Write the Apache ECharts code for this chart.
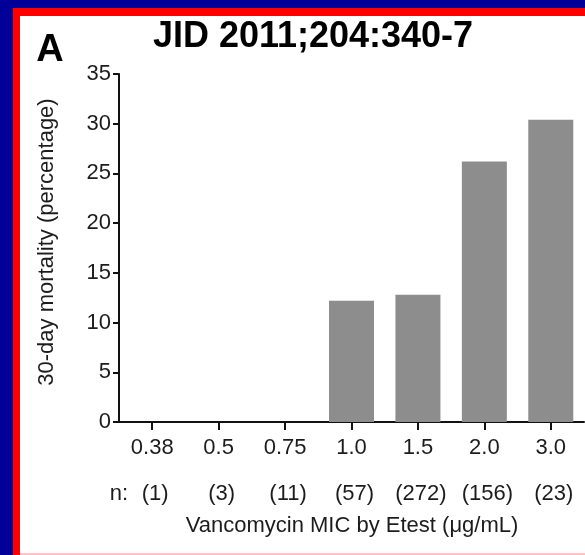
<!DOCTYPE html>
<html>
<head>
<meta charset="utf-8">
<script src="https://cdn.jsdelivr.net/npm/echarts@6/dist/echarts.min.js"></script>
<style>
html,body{margin:0;padding:0;background:#fff;}
#c{width:585px;height:555px;}
</style>
</head>
<body>
<div id="c"></div>
<script>
var categories = ['0.38', '0.5', '0.75', '1.0', '1.5', '2.0', '3.0'];
var nCounts = ['(1)', '(3)', '(11)', '(57)', '(272)', '(156)', '(23)'];
var mortality = [0, 0, 0, 12.2, 12.8, 26.2, 30.4];
var yTicks = { min: 0, max: 35, interval: 5 };

var FONT = 'Liberation Sans, Arial, Helvetica, sans-serif';
var TXT = '#1c1c1c';
var chart = echarts.init(document.getElementById('c'), null, { renderer: 'canvas' });
chart.setOption({
  animation: false,
  backgroundColor: '#fff',
  grid: { left: 119, right: 1, top: 74, bottom: 133, containLabel: false },
  xAxis: [{
    type: 'category',
    data: categories,
    position: 'bottom',
    axisLine: { show: true, lineStyle: { color: '#111', width: 2 } },
    axisTick: { show: true, alignWithLabel: true, interval: 0, length: 8, lineStyle: { color: '#111', width: 2 } },
    axisLabel: { interval: 0, margin: 15, fontSize: 22, color: TXT, fontFamily: FONT },
    splitLine: { show: false }
  }, {
    type: 'category',
    data: nCounts,
    position: 'bottom',
    axisLine: { show: false },
    axisTick: { show: false },
    axisLabel: { interval: 0, margin: 61, fontSize: 22, color: TXT, fontFamily: FONT, padding: [0, 0, 0, 6] },
    splitLine: { show: false }
  }],
  yAxis: {
    type: 'value',
    min: yTicks.min, max: yTicks.max, interval: yTicks.interval,
    axisLine: { show: true, lineStyle: { color: '#111', width: 2 } },
    axisTick: { show: true, length: 6, lineStyle: { color: '#111', width: 2 } },
    axisLabel: { margin: 8, fontSize: 22, color: TXT, fontFamily: FONT },
    splitLine: { show: false }
  },
  series: [{
    type: 'bar',
    data: mortality,
    barWidth: 45,
    itemStyle: { color: '#8d8d8d' },
    z: 2
  }],
  graphic: [
    { type: 'rect', z: -100, silent: true, shape: { x: 0, y: 0, width: 585, height: 555 }, style: { fill: '#000099' } },
    { type: 'rect', z: -99, silent: true, shape: { x: 13, y: 8, width: 572, height: 547 }, style: { fill: '#ff0000' } },
    { type: 'rect', z: -98, silent: true, shape: { x: 20, y: 16, width: 565, height: 537 }, style: { fill: '#ffffff' } },
    { type: 'rect', z: -98, silent: true, shape: { x: 20, y: 553, width: 565, height: 2 }, style: { fill: '#ffc4c4' } },
    { type: 'text', z: 10, silent: true, x: 313, y: 37, style: { text: 'JID 2011;204:340-7', font: 'bold 36px ' + FONT, fill: '#000', align: 'center', verticalAlign: 'middle' } },
    { type: 'text', z: 10, silent: true, x: 50, y: 51, style: { text: 'A', font: 'bold 38px ' + FONT, fill: '#000', align: 'center', verticalAlign: 'middle' } },
    { type: 'text', z: 10, silent: true, x: 47, y: 242, rotation: Math.PI / 2, style: { text: '30-day mortality (percentage)', font: '22px ' + FONT, fill: TXT, align: 'center', verticalAlign: 'middle' } },
    { type: 'text', z: 10, silent: true, x: 119, y: 494, style: { text: 'n:', font: '22px ' + FONT, fill: TXT, align: 'center', verticalAlign: 'middle' } },
    { type: 'text', z: 10, silent: true, x: 352, y: 526, style: { text: 'Vancomycin MIC by Etest (μg/mL)', font: '22px ' + FONT, fill: TXT, align: 'center', verticalAlign: 'middle' } }
  ]
});
</script>
</body>
</html>
